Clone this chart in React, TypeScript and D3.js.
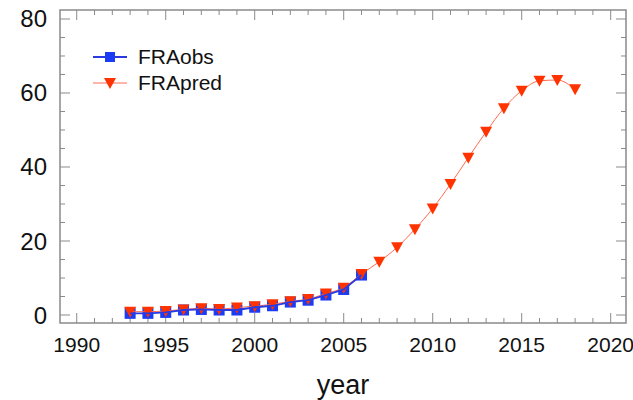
import React from 'react';
import * as d3 from 'd3';

const obsYears = [1993, 1994, 1995, 1996, 1997, 1998, 1999, 2000, 2001, 2002, 2003, 2004, 2005, 2006];
const obsValues = [0.45, 0.45, 0.7, 1.35, 1.5, 1.35, 1.35, 2.1, 2.5, 3.5, 4.0, 5.4, 6.9, 10.8];

const predYears = [1993, 1994, 1995, 1996, 1997, 1998, 1999, 2000, 2001, 2002, 2003, 2004, 2005,
  2006, 2007, 2008, 2009, 2010, 2011, 2012, 2013, 2014, 2015, 2016, 2017, 2018];
const predValues = [0.9, 0.9, 1.1, 1.5, 1.8, 1.6, 2.0, 2.4, 2.9, 3.7, 4.3, 5.8, 7.4,
  11.1, 14.4, 18.3, 23.2, 28.8, 35.4, 42.5, 49.5, 55.9, 60.6, 63.3, 63.5, 61.0];

const xTicks = [1990, 1995, 2000, 2005, 2010, 2015, 2020];
const yTicks = [0, 20, 40, 60, 80];

const W = 633;
const H = 400;
const left = 60, right = 626, top = 10, bottom = 323;
const frameColor = '#8a8a8a';
const blue = '#1a3cf5';
const red = '#ff3300';
const font = 'Liberation Sans, Arial, sans-serif';

const App: React.FC = () => {
  const x = d3.scaleLinear().domain([1989.06, 2020.86]).range([left, right]);
  const y = d3.scaleLinear().domain([-2.16, 82.43]).range([bottom, top]);

  const obs = obsYears.map((yr, i) => [yr, obsValues[i]] as [number, number]);
  const pred = predYears.map((yr, i) => [yr, predValues[i]] as [number, number]);

  const obsLine = d3.line<[number, number]>().x(d => x(d[0])).y(d => y(d[1]));
  const predLine = d3.line<[number, number]>().x(d => x(d[0])).y(d => y(d[1])).curve(d3.curveMonotoneX);

  const minorX = d3.range(1990, 2021, 1);
  const minorY = d3.range(0, 81, 5);

  const tri = (cx: number, cy: number) =>
    `M${cx - 6},${cy - 5}L${cx + 6},${cy - 5}L${cx},${cy + 6}Z`;

  return (
    <svg width={W} height={H} style={{ position: 'absolute', left: 0, top: 0, background: '#fff' }}>
      {/* ticks, inward on all four sides */}
      {minorX.map(t => {
        const major = t % 5 === 0;
        const len = major ? 10 : 5;
        return (
          <g key={'x' + t} stroke={frameColor} strokeWidth={1}>
            <line x1={x(t)} x2={x(t)} y1={bottom} y2={bottom - len} />
            <line x1={x(t)} x2={x(t)} y1={top} y2={top + len} />
          </g>
        );
      })}
      {minorY.map(t => {
        const major = t % 20 === 0;
        const len = major ? 10 : 5;
        return (
          <g key={'y' + t} stroke={frameColor} strokeWidth={1}>
            <line x1={left} x2={left + len} y1={y(t)} y2={y(t)} />
            <line x1={right} x2={right - len} y1={y(t)} y2={y(t)} />
          </g>
        );
      })}
      <rect x={left} y={top} width={right - left} height={bottom - top}
        fill="none" stroke={frameColor} strokeWidth={1.5} />

      {xTicks.map(t => (
        <text key={'xl' + t} x={x(t)} y={bottom + 29} textAnchor="middle"
          fontFamily={font} fontSize={21} fill="#111">{t}</text>
      ))}
      {yTicks.map(t => (
        <text key={'yl' + t} x={47} y={y(t) + 8.5} textAnchor="end"
          fontFamily={font} fontSize={24} fill="#111">{t}</text>
      ))}
      <text x={(left + right) / 2} y={394} textAnchor="middle"
        fontFamily={font} fontSize={27} fill="#111">year</text>

      {/* series */}
      {obs.map((d, i) => (
        <rect key={'s' + i} x={x(d[0]) - 5.5} y={y(d[1]) - 5.5} width={11} height={11} fill={blue} />
      ))}
      <path d={predLine(pred) || ''} fill="none" stroke="#ff6a50" strokeWidth={1} />
      {pred.map((d, i) => (
        <path key={'t' + i} d={tri(x(d[0]), y(d[1]))} fill={red} />
      ))}
      <path d={obsLine(obs) || ''} fill="none" stroke="#2a3ae0" strokeWidth={1.8} />

      {/* legend */}
      <line x1={93} x2={127} y1={57} y2={57} stroke="#2a3ae0" strokeWidth={1.8} />
      <rect x={105} y={52} width={10} height={10} fill={blue} />
      <text x={138} y={64} fontFamily={font} fontSize={21} fill="#111">FRAobs</text>
      <line x1={93} x2={127} y1={83} y2={83} stroke="#ff6a50" strokeWidth={1} />
      <path d={tri(110, 83)} fill={red} />
      <text x={138} y={90} fontFamily={font} fontSize={21} fill="#111">FRApred</text>
    </svg>
  );
};

export default App;
